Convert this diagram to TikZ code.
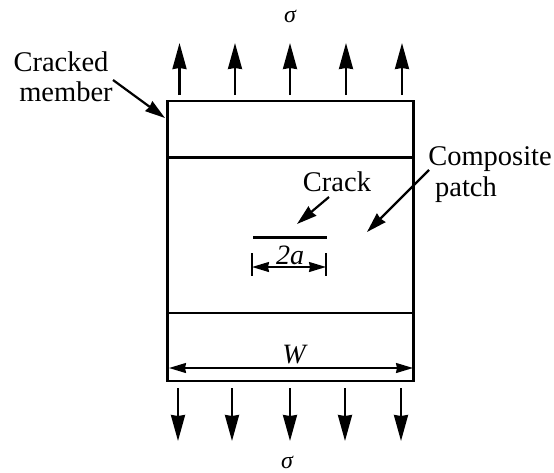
\documentclass[tikz,border=0pt]{standalone}
\usepackage{fontspec}
\usepackage{tikz}
\usetikzlibrary{arrows.meta}
\setmainfont{Liberation Serif}

\tikzset{
  load/.style = {-{Stealth[length=26pt, width=14pt, inset=1pt]}, line width = 2.2pt},
  lead/.style = {-{Stealth[length=20pt, width=12pt, inset=1pt]}, line width = 2.2pt},
  dimen/.style = {{Stealth[length=17pt, width=10pt, inset=1pt]}-{Stealth[length=17pt, width=10pt, inset=1pt]}, line width = 1.6pt},
  member/.style = {line width = 2.2pt},
  label/.style = {font = \fontsize{28.5}{30}\selectfont, inner sep = 0pt},
  symbol/.style = {font = \fontsize{28}{30}\selectfont\itshape, inner sep = 0pt},
  stress/.style = {font = \fontsize{24}{26}\selectfont\itshape, inner sep = 0pt}
}

\begin{document}
\begin{tikzpicture}[x = 1pt, y = -1pt]

\useasboundingbox (0, 0) rectangle (554, 472);

% Member and patch edges
  \draw[member] (167.5, 101) rectangle (413.5, 381);
  \draw[member] (167.5, 157.5) -- (413.5, 157.5);
  \draw[member] (167.5, 313) -- (413.5, 313);

% Stress arrows
  \foreach \x in {179.5, 235, 290, 346, 402} {
	\draw[load] (\x, 95) -- (\x, 43);
}
  \foreach \x in {178, 232, 290, 345, 401} {
	\draw[load] (\x, 388) -- (\x, 441);
}

  \node[stress] (sigmatop) at (290, 16) {σ};
  \node[stress] (sigmabottom) at (287, 462) {σ};

% Labels
  \node[label] (cracked) at (61, 62) {Cracked};
  \node[label] (memberlabel) at (66, 92) {member};
  \node[label] (crack) at (337, 182) {Crack};
  \node[label] (composite) at (490, 159) {Composite};
  \node[label] (patch) at (466, 190) {patch};

  \coordinate (memberstart) at (113, 80);
  \coordinate (memberend) at (165, 118);
  \coordinate (crackstart) at (329, 197);
  \coordinate (crackend) at (297, 224);
  \coordinate (patchstart) at (429, 170);
  \coordinate (patchend) at (367, 232);

  \draw[lead] (memberstart) -- (memberend);
  \draw[lead] (crackstart) -- (crackend);
  \draw[lead] (patchstart) -- (patchend);

% Crack and dimensions
  \draw[line width = 2.4pt] (253, 237.5) -- (327, 237.5);
  \draw[line width = 2pt] (252, 253) -- (252, 276);
  \draw[line width = 2pt] (326, 253) -- (326, 276);
  \draw[dimen] (252, 267) -- (326, 267);
  \node[symbol] (crackwidth) at (290, 255) {2a};

  \draw[dimen] (169, 368) -- (413, 368);
  \node[symbol] (width) at (294, 355) {W};

\end{tikzpicture}
\end{document}
